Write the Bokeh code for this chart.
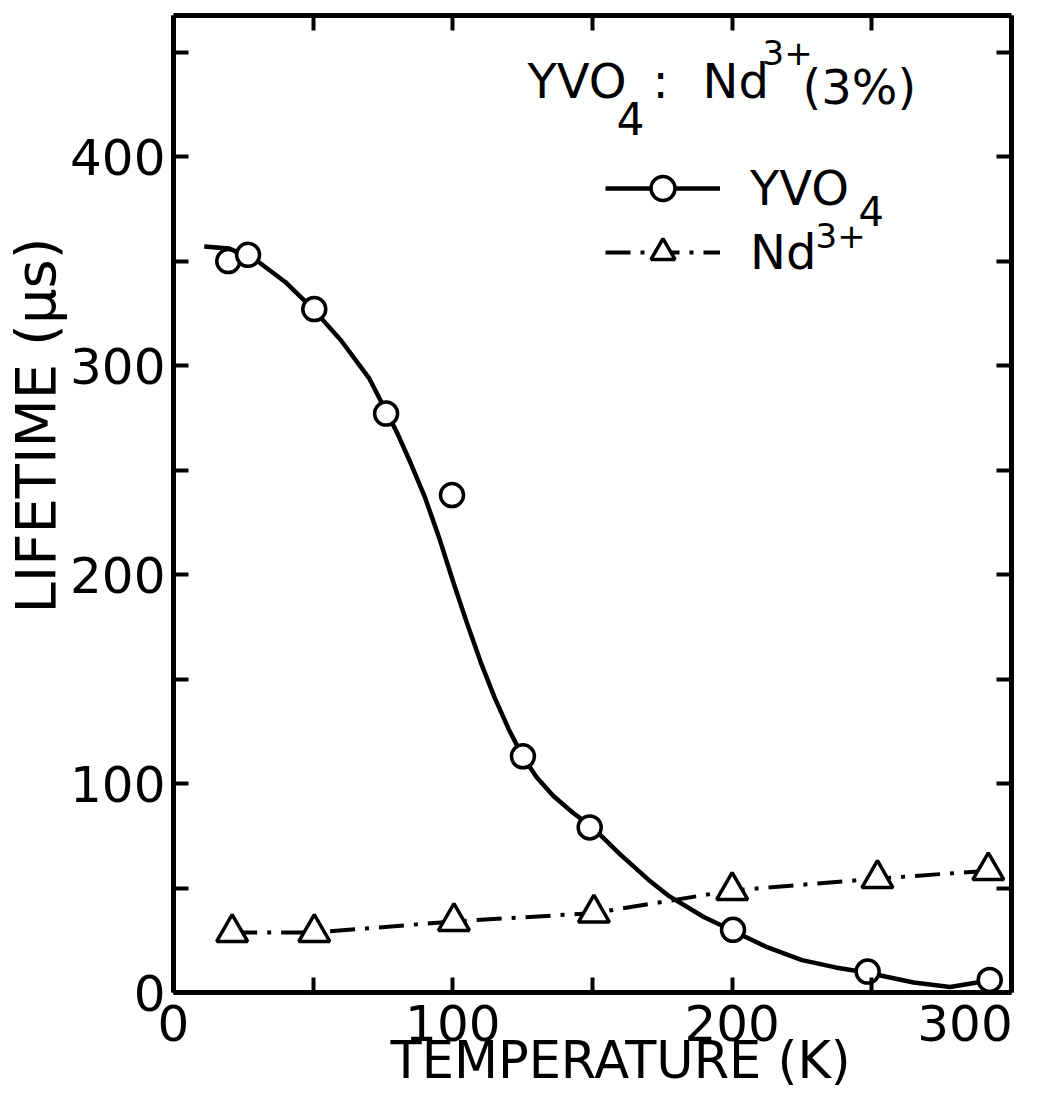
from bokeh.plotting import figure
from bokeh.models import Range1d, LinearAxis, FixedTicker, Label, Legend, LegendItem, Title
from bokeh.embed import file_html
from bokeh.resources import INLINE

# ---------------- data ----------------
yvo4_temp = [19.6, 26.7, 50.4, 76.1, 99.7, 125.1, 149.0, 200.3, 248.5, 292.2]
yvo4_life = [350, 353, 327, 277, 238, 113, 79, 30, 10, 6]

nd_temp = [21.0, 50.4, 100.4, 150.5, 200.0, 252.0, 291.7]
nd_life = [28.7, 28.7, 34.0, 38.0, 48.8, 54.5, 58.3]

# hand-drawn smooth curve through the YVO4 points
fit_temp = [11, 20, 30, 40, 50, 60, 70, 80, 85, 90, 95, 100, 105, 110, 115, 120, 125,
            130, 136, 143, 150, 160, 170, 177, 190, 200, 212, 225, 237, 248, 265, 278, 292]
fit_life = [357, 356, 350, 340, 327, 312, 294, 268, 253, 237, 218, 197, 177, 158, 141, 126, 113,
            103, 94, 86, 79, 66, 54, 46.5, 36, 29.7, 22, 15.5, 12, 9.6, 4.8, 2.6, 5.7]

x_ticks = [0, 50, 100, 150, 200, 250, 300]
x_tick_labels = ["0", "", "100", "", "200", "", "300\u00a0\u00a0"]
y_ticks = [0, 50, 100, 150, 200, 250, 300, 350, 400, 450]
y_tick_labels = ["0", "", "100", "", "200", "", "300", "", "400", ""]

FONT = "DejaVu Sans"
FL, FB = 173, 992  # frame left / bottom in page px (for annotation placement)

p = figure(frame_width=838, frame_height=977,
           x_range=Range1d(0, 300), y_range=Range1d(0, 467.5),
           output_backend="svg", toolbar_location=None,
           min_border_left=173, min_border_right=33, min_border_top=15, min_border_bottom=100,
           x_axis_location=None, y_axis_location=None)
p.xgrid.visible = False
p.ygrid.visible = False
p.outline_line_color = None
p.background_fill_color = "white"
p.border_fill_color = "white"


def style_axis(ax, show_labels):
    ax.axis_line_width = 5
    ax.axis_line_color = "black"
    ax.major_tick_line_width = 4
    ax.major_tick_line_color = "black"
    ax.major_tick_in = 15
    ax.major_tick_out = 0
    ax.minor_tick_line_color = None
    ax.major_label_text_font = FONT
    ax.major_label_text_color = "black"
    if show_labels:
        ax.major_label_text_font_size = "50px"
    else:
        ax.major_label_text_font_size = "0px"
        ax.major_label_standoff = 0


bottom = LinearAxis(ticker=FixedTicker(ticks=x_ticks),
                    major_label_overrides={t: s for t, s in zip(x_ticks, x_tick_labels)})
style_axis(bottom, True)
bottom.major_label_standoff = 2
p.add_layout(bottom, "below")

left = LinearAxis(ticker=FixedTicker(ticks=y_ticks),
                  major_label_overrides={t: s for t, s in zip(y_ticks, y_tick_labels)})
style_axis(left, True)
left.major_label_standoff = 8
p.add_layout(left, "left")

top = LinearAxis(ticker=FixedTicker(ticks=x_ticks))
style_axis(top, False)
p.add_layout(top, "above")

right = LinearAxis(ticker=FixedTicker(ticks=y_ticks))
style_axis(right, False)
p.add_layout(right, "right")

# axis titles
p.add_layout(Title(text="LIFETIME (μs)", align="left", offset=379, standoff=0,
                   text_font=FONT, text_font_size="56px", text_font_style="normal",
                   text_color="black"), "left")
p.add_layout(Title(text="TEMPERATURE (K)", align="left", offset=217, standoff=-50,
                   vertical_align="top",
                   text_font=FONT, text_font_size="51px", text_font_style="normal",
                   text_color="black"), "below")

# ---------------- series ----------------
fit_r = p.line(fit_temp, fit_life, line_color="black", line_width=4.5, line_join="round")
yvo_r = p.scatter(yvo4_temp, yvo4_life, marker="circle", size=23, fill_color="white",
                  line_color="black", line_width=3.5)
nd_line_r = p.line(nd_temp, nd_life, line_color="black", line_width=4, line_dash="25 10 4 10")
nd_pts_r = p.scatter(nd_temp, nd_life, marker="triangle", size=31, fill_color="white",
                     line_color="black", line_width=3.5)

legend = Legend(items=[LegendItem(label="YVO", renderers=[fit_r, yvo_r]),
                       LegendItem(label="Nd", renderers=[nd_line_r, nd_pts_r])],
                location=(605 - FL, FB - 282), orientation="vertical",
                glyph_width=115, glyph_height=60, label_height=60, spacing=4,
                padding=0, margin=0, label_standoff=30,
                border_line_color=None, background_fill_alpha=0,
                label_text_font=FONT, label_text_font_size="48px", label_text_color="black")
p.add_layout(legend)


def txt(s, px, py, size):
    # (px, py): left edge and vertical centre, in page pixels
    p.add_layout(Label(x=px - FL, y=FB - py, x_units="screen", y_units="screen", text=s,
                       text_font=FONT, text_font_size=f"{size}px", text_color="black",
                       text_align="left", text_baseline="middle"))


# title: YVO4 : Nd3+ (3%)
txt("YVO", 527, 80.5, 48)
txt("4", 616, 118, 44)
txt(":", 652, 80, 48)
txt("Nd", 702, 80.5, 48)
txt("3+", 762, 52, 34)
txt("(3%)", 802, 86, 48)

# legend sub/superscripts
txt("4", 858, 210, 40)
txt("3+", 815, 235, 34)

open("out.html", "w").write(file_html(p, INLINE))
